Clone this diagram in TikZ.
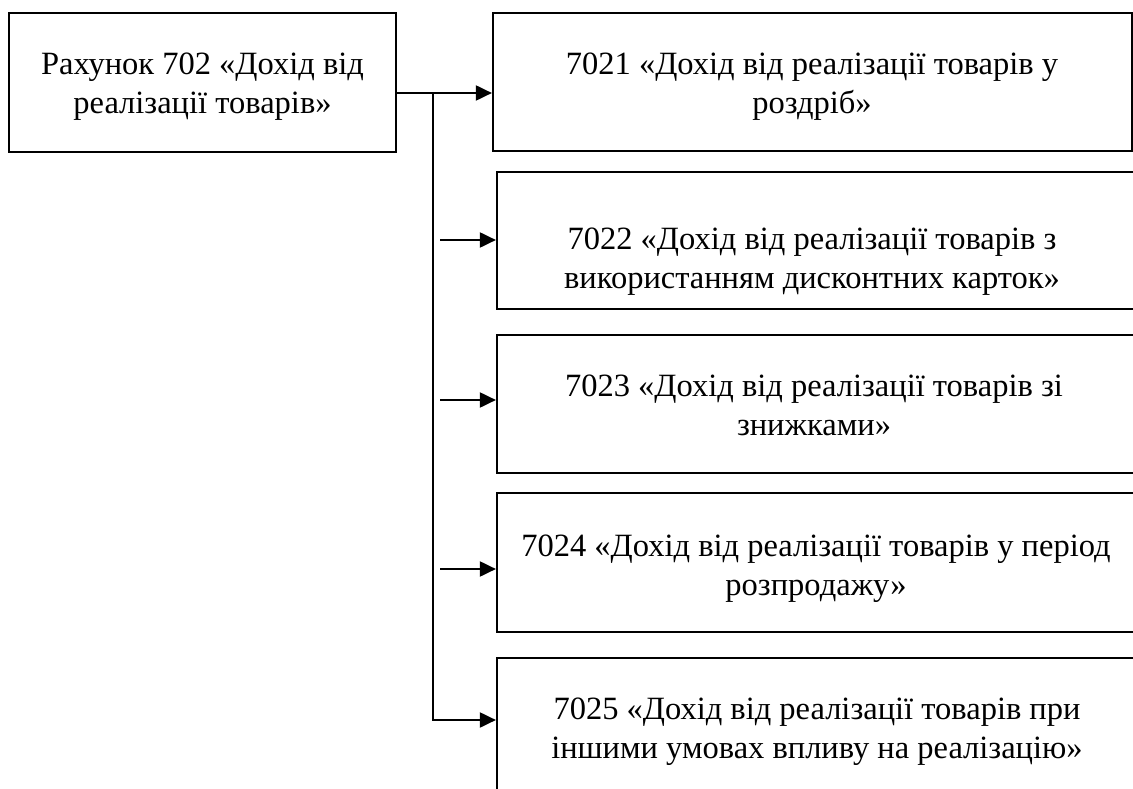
\documentclass[tikz,border=0pt]{standalone}
\usepackage{fontspec}
\setmainfont{Liberation Serif}
\usetikzlibrary{arrows.meta}
\begin{document}
\begin{tikzpicture}[x=1pt,y=-1pt,
  boxstyle/.style={draw, line width=2.2pt, inner sep=0pt},
  txt/.style={font=\fontsize{32.5}{38.5}\selectfont, align=center, inner sep=0pt},
  conn/.style={line width=2pt},
  arr/.style={line width=2pt, -{Triangle[length=16pt,width=15pt]}}]
\useasboundingbox (0,0) rectangle (1133,789);
\clip (0,0) rectangle (1133,789);
% boxes
\node[boxstyle, minimum width=387pt, minimum height=139pt] (m) at (202.5,82.5) {};
\node[boxstyle, minimum width=639pt, minimum height=138pt] (b1) at (812.5,82) {};
\node[boxstyle, minimum width=648pt, minimum height=137pt] (b2) at (821,240.5) {};
\node[boxstyle, minimum width=648pt, minimum height=138pt] (b3) at (821,404) {};
\node[boxstyle, minimum width=648pt, minimum height=139pt] (b4) at (821,562.5) {};
\node[boxstyle, minimum width=648pt, minimum height=150pt] (b5) at (821,733) {};
% texts
\node[txt] (mt) at (202.5,86.5) {\strut Рахунок 702 «Дохід від\\реалізації товарів»\strut};
\node[txt] (t1) at (812,86.5) {\strut 7021 «Дохід від реалізації товарів у\\роздріб»\strut};
\node[txt] (t2) at (812,261.5) {\strut 7022 «Дохід від реалізації товарів з\\використанням дисконтних карток»\strut};
\node[txt] (t3) at (814,408.5) {\strut 7023 «Дохід від реалізації товарів зі\\знижками»\strut};
\node[txt] (t4) at (816,568.5) {\strut 7024 «Дохід від реалізації товарів у період\\розпродажу»\strut};
\node[txt] (t5) at (817,731.5) {\strut 7025 «Дохід від реалізації товарів при\\іншими умовах впливу на реалізацію»\strut};
% connectors
\coordinate (j0) at (433,93);
\coordinate (j5) at (433,720);
\coordinate (s2) at (440,240);
\coordinate (s3) at (440,400);
\coordinate (s4) at (440,569);
\coordinate (s5) at (432,720);
\draw[arr] (m.east |- j0) -- (b1.west |- j0);
\draw[conn] (j0) -- (j5);
\draw[arr] (s2) -- (b2.west |- s2);
\draw[arr] (s3) -- (b3.west |- s3);
\draw[arr] (s4) -- (b4.west |- s4);
\draw[arr] (s5) -- (b5.west |- s5);
\end{tikzpicture}
\end{document}
